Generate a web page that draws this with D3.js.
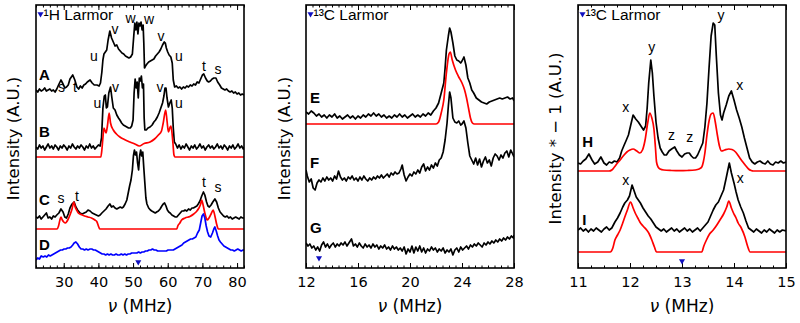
<!DOCTYPE html>
<html lang="en">
<head>
<meta charset="UTF-8">
<title>NMR spectra</title>
<style>
  body { margin: 0; background: #fff; }
  svg { display: block; }
</style>
</head>
<body>
<script src="https://d3js.org/d3.v7.min.js"></script>
<script>
// ---- data: [frequency MHz, intensity A.U. (offset included)] ----
// panel 1 (1H)
const traceA = [[22,178],[22.5,176],[23,179],[23.5,177],[24,178],[24.5,180],[25,177],[25.5,178],[26,179],[26.5,177],[27,178],[27.5,176],[28,179],[28.5,183],[29.2,188],[29.8,184],[30.3,180],[30.8,181],[31.3,183],[31.8,189],[32.6,193],[33.2,188],[33.8,181],[34.3,179],[34.8,182],[35.3,180],[35.8,183],[36.3,184],[36.8,186],[37.6,188],[38.2,185],[38.8,183],[39.6,183],[40.2,182],[40.6,185],[41,196],[41.3,208],[41.6,214],[42,216],[42.4,218],[42.8,228],[43.3,237],[43.8,230],[44.3,226],[44.8,222],[45.3,223],[45.8,219],[46.3,217],[46.8,215],[47.3,214],[47.8,212],[48.3,211],[48.8,210],[49.3,211],[49.8,214],[50.2,232],[50.5,245],[50.8,238],[51.1,246],[51.4,234],[51.7,245],[52,242],[52.3,246],[52.6,238],[52.9,243],[53.1,225],[53.3,200],[53.6,202],[54,204],[54.5,206],[55,207],[55.5,208],[56,209],[56.5,212],[57,214],[57.5,216],[58,219],[58.5,223],[59,226],[59.3,225],[59.6,220],[60,216],[60.4,213],[60.9,211],[61.3,205],[61.6,188],[62,181],[62.5,182],[63,180],[63.5,181],[64,179],[64.5,181],[65,180],[65.5,182],[66,181],[66.5,183],[67,182],[67.5,184],[68,183],[68.5,186],[69,185],[69.5,189],[70,193],[70.4,194],[70.9,190],[71.4,187],[71.8,186],[72.3,187],[72.8,189],[73.3,190],[73.9,190],[74.4,186],[75,183],[75.5,180],[76,179],[76.5,178],[77,179],[77.5,177],[78,176],[78.5,177],[79,175],[79.5,176],[80,174],[80.5,175],[81,173],[81.5,174],[82,173]];
const traceB = [[22,121],[22.5,119],[23,123],[23.5,120],[24,122],[24.5,118],[25,121],[25.5,124],[26,120],[26.5,122],[27,119],[27.5,123],[28,121],[28.5,118],[29,122],[29.5,120],[30,123],[30.5,121],[31,118],[31.5,122],[32,120],[32.5,124],[33,121],[33.5,119],[34,122],[34.5,120],[35,123],[35.5,121],[36,118],[36.5,122],[37,120],[37.5,124],[38,120],[38.5,122],[39,119],[39.5,121],[40,123],[40.5,122],[40.9,130],[41.3,160],[41.7,172],[42,173],[42.3,160],[42.6,161],[43,175],[43.5,181],[43.9,170],[44.3,160],[44.8,158],[45.3,153],[45.8,150],[46.2,148],[46.7,145],[47.2,143],[47.7,142],[48.2,141],[48.7,140],[49.2,140],[49.6,142],[50,148],[50.3,175],[50.6,189],[50.9,180],[51.2,186],[51.5,170],[51.8,190],[52.1,187],[52.4,192],[52.7,180],[53,184],[53.2,150],[53.4,138],[53.8,138],[54.3,140],[54.9,141],[55.5,143],[56,146],[56.5,148],[57,151],[57.5,155],[58,160],[58.5,165],[58.9,172],[59.2,180],[59.5,180],[59.8,170],[60.2,161],[60.6,165],[61,168],[61.3,160],[61.6,140],[61.9,126],[62.3,124],[62.8,120],[63.3,123],[63.8,119],[64.3,122],[64.8,120],[65.3,124],[65.8,121],[66.3,118],[66.8,122],[67.3,120],[67.8,123],[68.3,119],[68.8,121],[69.3,124],[69.8,120],[70.3,122],[70.8,118],[71.3,121],[71.8,123],[72.3,120],[72.8,122],[73.3,119],[73.8,121],[74.3,124],[74.8,120],[75.3,122],[75.8,119],[76.3,123],[76.8,121],[77.3,118],[77.8,122],[78.3,120],[78.8,123],[79.3,119],[79.8,121],[80.3,124],[80.8,120],[81.3,122],[81.8,119],[82,121]];
const fitB = [[22,111],[40.7,111],[41,118],[41.3,130],[41.6,140],[42.2,135],[42.6,142],[43.1,155],[43.5,145],[44.3,138],[45.2,134],[46.2,131],[47.5,128.5],[49.1,126],[50.5,124],[51.8,122],[53.2,124.5],[54.9,126],[56.2,129],[57.3,133],[58.2,137],[58.7,145],[59.4,158],[59.8,147],[60.2,136],[60.6,140],[60.9,142],[61.2,136],[61.5,125],[61.8,113],[62.1,111],[82,111]];
const traceC = [[22,51],[22.5,50],[23,52],[23.5,49],[24,51],[24.5,53],[25,55],[25.5,50],[26,51],[26.5,49],[27,52],[27.5,51],[28,53],[28.6,55],[29.2,59],[29.8,56],[30.3,51],[30.8,50],[31.3,54],[31.8,60],[32.4,64],[33,66],[33.5,61],[34,58],[34.7,55],[35.3,54],[35.9,55],[36.5,56],[37,58],[37.6,57],[38.2,55],[38.8,54],[39.4,53],[40,52],[40.5,53],[41,55],[41.6,57],[42.2,59],[42.8,62],[43.3,64],[43.8,61],[44.3,62],[44.8,60],[45.3,59],[45.8,60],[46.3,61],[46.8,60],[47.2,61],[47.7,64],[48.2,68],[48.6,75],[49,82],[49.4,88],[49.8,98],[50.1,112],[50.4,118],[50.7,113],[51,116],[51.3,105],[51.6,98],[51.9,112],[52.2,118],[52.5,112],[52.8,116],[53.1,100],[53.4,85],[53.7,70],[54,64],[54.5,60],[55,58],[55.4,57],[55.9,56],[56.4,55],[56.8,56],[57.3,57],[57.8,59],[58.3,62],[58.7,64],[59.1,65],[59.5,62],[59.9,58],[60.3,56],[60.7,55],[61.2,53],[61.7,52],[62.2,51],[62.6,51],[63.1,53],[63.6,55],[64.1,57],[64.6,57],[65,58],[65.5,57],[66,59],[66.5,58],[67,60],[67.4,60],[67.9,61],[68.4,62],[68.8,64],[69.3,67],[69.8,72],[70.3,76],[70.7,73],[71.2,66],[71.6,62],[72,61],[72.5,63],[73,66],[73.6,69],[74.1,66],[74.6,60],[75.1,56],[75.6,54],[76.1,52],[76.6,51],[77.1,52],[77.6,50],[78.1,51],[78.6,49],[79.1,50],[79.6,51],[80.1,50],[80.6,49],[81.1,51],[81.6,50],[82,50]];
const fitC = [[22,39],[28.1,39],[28.5,42],[28.9,48],[29.2,51],[29.6,48],[30,46],[30.5,45],[30.8,46],[31.3,49],[31.8,53],[32.4,59],[32.9,66],[33.3,61],[33.7,58],[34.2,55],[35,53.5],[36,52],[37,51],[38,50],[39,48],[39.6,46],[40,42],[40.4,39],[62.6,39],[62.9,42],[63.5,45],[64,48],[65,50],[66.4,51.5],[67.5,54],[68.3,56.5],[69,60],[69.5,64],[69.8,68],[70.2,63],[70.7,55],[71.1,50],[71.4,48],[71.9,50],[72.5,54],[73.1,58],[73.6,52],[74.1,44],[74.6,39],[82,39]];
const traceD = [[22,8],[22.5,10],[23,9],[23.5,12],[24.1,11],[24.6,12],[25.1,11],[25.6,13],[26.1,12],[26.6,13],[27.1,14],[27.6,15],[28.1,16],[28.6,17],[29.1,18],[29.6,18],[30.1,19],[30.6,19],[31.1,20],[31.6,20],[32.1,21],[32.6,23],[33,25],[33.5,26],[34,24],[34.5,21],[35,19],[35.5,19],[36,18],[36.5,19],[37,18],[37.6,19],[38.1,19],[38.6,18],[39.1,18],[39.6,17],[40.1,16],[40.6,15],[41.1,14],[41.6,14],[42.1,13],[42.6,14],[43.1,13],[43.6,14],[44.1,13],[44.6,13],[45.1,14],[45.6,13],[46.1,13],[46.6,14],[47.1,13],[47.6,14],[48.1,13],[48.6,14],[49.1,14],[49.6,15],[50.1,15],[50.6,15],[51.1,15],[51.6,16],[52.1,15],[52.6,16],[53.1,16],[53.6,17],[54.1,17],[54.6,18],[55.1,18],[55.6,19],[56.1,18],[56.6,18],[57.1,17],[57.6,17],[58.1,17],[58.6,17],[59.1,17],[59.6,17],[60.1,18],[60.6,18],[61.1,18],[61.6,18],[62.1,19],[62.6,20],[63.1,21],[63.6,22],[64.1,23],[64.6,25],[65.1,26],[65.6,27],[66.1,28],[66.6,29],[67.1,29],[67.6,30],[68.1,31],[68.6,35],[69.1,38],[69.5,45],[69.9,52],[70.3,54],[70.7,50],[71.1,42],[71.5,36],[71.9,32],[72.4,31],[72.9,35],[73.3,39],[73.6,41],[74,37],[74.4,32],[74.8,28],[75.2,26],[75.7,24],[76.2,22],[76.7,21],[77.2,20],[77.7,19],[78.2,18],[78.7,18],[79.2,17],[79.7,18],[80.2,19],[80.7,18],[81.2,17],[81.7,18],[82,18]];

// panel 2 (13C, 12-28 MHz)
const traceE = [[12,156],[12.2,154],[12.4,157],[12.6,155],[12.8,152],[13,154],[13.2,151],[13.4,153],[13.6,150],[13.8,153],[14,151],[14.2,154],[14.4,150],[14.6,152],[14.8,149],[15,151],[15.2,153],[15.4,150],[15.6,152],[15.8,149],[16,152],[16.2,150],[16.4,153],[16.6,151],[16.8,154],[17,152],[17.2,155],[17.4,152],[17.6,154],[17.8,151],[18,153],[18.2,150],[18.4,152],[18.6,150],[18.8,153],[19,151],[19.2,154],[19.4,151],[19.6,153],[19.8,150],[20,152],[20.2,154],[20.4,151],[20.6,153],[20.8,151],[21,154],[21.2,152],[21.4,155],[21.6,153],[21.8,157],[22,160],[22.2,165],[22.4,175],[22.6,185],[22.7,200],[22.8,218],[22.95,232],[23.05,240],[23.15,236],[23.3,225],[23.45,212],[23.6,208],[23.75,207],[23.9,205],[24,207],[24.15,211],[24.3,203],[24.45,190],[24.6,185],[24.75,178],[24.9,175],[25.1,170],[25.3,168],[25.5,166],[25.7,165],[25.9,164],[26.1,166],[26.3,167],[26.5,168],[26.7,169],[26.9,170],[27.1,169],[27.3,170],[27.5,171],[27.7,169],[27.9,170],[28,167]];
const fitE = [[12,144],[22,144],[22.2,146],[22.4,155],[22.6,168],[22.8,195],[23,214],[23.1,216],[23.25,208],[23.5,198],[23.75,191],[24,185],[24.2,178],[24.35,170],[24.5,160],[24.65,150],[24.8,145],[24.95,144],[28,144]];
const traceF = [[12,98],[12.1,92],[12.25,86],[12.4,89],[12.55,80],[12.7,78],[12.85,85],[13,88],[13.15,86],[13.3,90],[13.45,87],[13.6,91],[13.75,88],[13.9,90],[14.05,87],[14.2,92],[14.35,89],[14.5,97],[14.65,91],[14.8,88],[14.95,90],[15.1,87],[15.25,91],[15.4,89],[15.55,92],[15.7,88],[15.85,90],[16,87],[16.15,91],[16.3,88],[16.45,92],[16.6,89],[16.75,87],[16.9,90],[17.05,88],[17.2,91],[17.35,89],[17.5,92],[17.65,90],[17.8,93],[17.95,90],[18.1,92],[18.25,94],[18.4,91],[18.55,95],[18.7,93],[18.85,96],[19,94],[19.15,95],[19.3,99],[19.4,103],[19.55,93],[19.7,87],[19.85,91],[20,94],[20.15,92],[20.3,96],[20.45,94],[20.6,98],[20.75,95],[20.9,101],[21.05,104],[21.2,97],[21.35,101],[21.5,98],[21.65,103],[21.8,100],[21.95,105],[22.1,102],[22.25,108],[22.4,110],[22.55,116],[22.7,128],[22.85,145],[22.95,162],[23.05,176],[23.15,170],[23.3,150],[23.45,146],[23.6,145],[23.75,147],[23.9,143],[24,144],[24.15,147],[24.3,140],[24.45,125],[24.6,112],[24.75,108],[24.9,104],[25.05,110],[25.2,103],[25.35,109],[25.5,101],[25.65,107],[25.8,111],[25.95,105],[26.1,108],[26.25,102],[26.4,110],[26.55,114],[26.7,112],[26.85,108],[27,113],[27.15,110],[27.3,115],[27.45,117],[27.6,111],[27.75,118],[27.9,114],[28,111]];
const traceG = [[12,25],[12.15,22],[12.3,24],[12.45,20],[12.6,22],[12.75,18],[12.9,21],[13.05,17],[13.2,23],[13.35,26],[13.5,21],[13.65,24],[13.8,20],[13.95,23],[14.1,25],[14.25,21],[14.4,24],[14.55,22],[14.7,25],[14.85,23],[15,26],[15.15,22],[15.3,25],[15.5,29],[15.65,22],[15.8,24],[15.95,21],[16.1,25],[16.25,22],[16.4,20],[16.55,24],[16.7,21],[16.85,23],[17,20],[17.15,24],[17.3,21],[17.45,23],[17.6,19],[17.75,22],[17.9,20],[18.05,23],[18.2,19],[18.35,21],[18.5,18],[18.65,22],[18.8,19],[18.95,21],[19.1,18],[19.25,20],[19.4,17],[19.55,21],[19.7,14],[19.85,19],[20,16],[20.15,22],[20.3,15],[20.45,21],[20.6,17],[20.75,22],[20.9,16],[21.05,20],[21.2,15],[21.35,19],[21.5,17],[21.65,21],[21.8,18],[21.95,20],[22.1,16],[22.25,19],[22.4,17],[22.55,20],[22.7,15],[22.85,18],[23,16],[23.15,19],[23.3,13],[23.45,18],[23.6,20],[23.75,16],[23.9,21],[24.05,18],[24.2,20],[24.35,22],[24.5,19],[24.65,23],[24.8,21],[24.95,24],[25.1,22],[25.25,25],[25.4,23],[25.55,21],[25.7,25],[25.85,23],[26,26],[26.15,24],[26.3,27],[26.45,25],[26.6,28],[26.75,26],[26.9,29],[27.05,27],[27.2,30],[27.35,28],[27.5,31],[27.65,29],[27.8,32],[27.95,30],[28,33]];

// panel 3 (13C, 11-15 MHz)
const traceH = [[11,105],[11.05,104],[11.1,107],[11.15,109],[11.21,114],[11.27,108],[11.32,104],[11.38,106],[11.44,111],[11.5,105],[11.55,103],[11.6,106],[11.65,105],[11.7,107],[11.75,106],[11.8,110],[11.84,117],[11.88,122],[11.93,128],[11.97,133],[12.01,142],[12.06,153],[12.11,149],[12.16,146],[12.21,142],[12.26,138],[12.3,142],[12.33,160],[12.36,185],[12.4,208],[12.43,195],[12.46,172],[12.5,146],[12.54,130],[12.58,120],[12.62,116],[12.66,113],[12.7,113],[12.75,117],[12.8,119],[12.86,121],[12.9,117],[12.95,113],[13,111],[13.05,114],[13.1,115],[13.14,115],[13.18,112],[13.22,110],[13.26,110],[13.3,113],[13.35,119],[13.4,125],[13.44,141],[13.48,165],[13.52,200],[13.56,232],[13.6,245],[13.63,243],[13.66,212],[13.7,175],[13.74,153],[13.77,148],[13.8,155],[13.85,163],[13.9,172],[13.95,177],[14,168],[14.05,158],[14.1,150],[14.15,141],[14.2,130],[14.25,120],[14.3,110],[14.35,106],[14.4,104],[14.45,106],[14.5,107],[14.55,105],[14.6,104],[14.65,107],[14.7,104],[14.75,103],[14.8,106],[14.85,105],[14.9,107],[14.95,105],[15,106]];
const fitH = [[11,97],[11.6,97],[11.65,98],[11.7,101],[11.76,105],[11.81,108],[11.87,112],[11.94,116],[12,118],[12.06,119],[12.13,117],[12.19,115],[12.24,118],[12.29,128],[12.34,145],[12.38,155],[12.42,150],[12.46,139],[12.49,120],[12.51,106],[12.54,101],[12.58,99],[12.65,98],[12.8,97.5],[12.96,97.3],[13.1,97.5],[13.25,98],[13.33,99],[13.38,101],[13.41,106],[13.44,115],[13.48,133],[13.52,147],[13.56,154],[13.6,155],[13.64,146],[13.68,133],[13.72,122],[13.76,117],[13.82,118],[13.9,119],[13.96,118.5],[14.03,116],[14.1,111],[14.17,106],[14.23,102],[14.28,99],[14.33,97.5],[14.37,97],[15,97]];
const traceI = [[11,38],[11.05,40],[11.1,37],[11.15,39],[11.2,36],[11.25,39],[11.3,37],[11.35,40],[11.4,38],[11.45,36],[11.5,39],[11.55,41],[11.6,38],[11.65,40],[11.71,46],[11.76,50],[11.81,55],[11.86,61],[11.9,65],[11.95,68],[11.99,72],[12.04,83],[12.08,77],[12.12,71],[12.16,68],[12.2,65],[12.25,60],[12.3,56],[12.35,52],[12.4,49],[12.45,45],[12.5,41],[12.55,39],[12.6,37],[12.65,39],[12.7,36],[12.75,38],[12.8,40],[12.85,37],[12.9,39],[12.95,36],[13,38],[13.05,40],[13.1,37],[13.15,39],[13.2,36],[13.25,38],[13.3,40],[13.35,37],[13.4,40],[13.45,43],[13.5,46],[13.55,52],[13.6,58],[13.65,63],[13.7,66],[13.75,72],[13.8,78],[13.85,90],[13.91,105],[13.95,95],[14,85],[14.04,76],[14.08,68],[14.13,61],[14.18,55],[14.23,47],[14.28,40],[14.33,38],[14.38,36],[14.43,39],[14.48,37],[14.53,35],[14.58,38],[14.63,36],[14.68,39],[14.73,37],[14.78,35],[14.83,38],[14.88,36],[14.93,38],[15,37]];
const fitI = [[11,16],[11.62,16],[11.67,20],[11.71,28],[11.76,33],[11.81,38],[11.86,45],[11.9,51],[11.95,58],[12.01,66],[12.06,60],[12.1,55],[12.15,50],[12.19,46],[12.25,42],[12.32,38],[12.37,34],[12.42,28],[12.47,21],[12.51,16],[13.38,16],[13.42,22],[13.47,28],[13.53,34],[13.6,38],[13.67,43],[13.73,48],[13.8,54],[13.86,61],[13.9,67],[13.95,60],[13.99,55],[14.04,50],[14.08,45],[14.14,40],[14.21,31],[14.26,22],[14.31,16],[15,16]];

// tick labels
const ticks1 = [30, 40, 50, 60, 70, 80];
const ticks2 = [12, 16, 20, 24, 28];
const ticks3 = [11, 12, 13, 14, 15];

// trace letters [letter, freq, intensity]
const letters1 = [["A", 22.9, 188], ["B", 22.9, 131], ["C", 22.9, 63], ["D", 22.9, 18]];
const letters2 = [["E", 12.3, 165], ["F", 12.3, 100], ["G", 12.3, 35]];
const letters3 = [["H", 11.08, 121], ["I", 11.08, 43]];

// peak labels [label, freq, intensity]
const peaks1 = [["u",38.73,207],["v",44.79,234],["w",49.26,245],["w",54.59,244],["v",58.05,227],["u",63.25,207],["t",70.46,197],["s",74.5,194],["s",29.35,176],["t",33.25,176],
  ["u",39.74,160],["v",44.93,176],["v",57.77,176],["u",63.25,160],
  ["s",29.21,65],["t",33.83,67],["t",70.46,81],["s",74.5,76]];
const peaks3 = [["x",11.92,156],["y",12.42,216],["z",12.8,128],["z",13.15,126],["y",13.75,248],["x",14.11,178],
  ["x",11.92,83],["x",14.12,85]];

// Larmor markers [freq, intensity]
const larmor1 = [51.5, 6];
const larmor2 = [13.0, 10];
const larmor3 = [13.0, 7];

const W = 800, H = 323;
const plotTop = 5, plotBottom = 268;

const panels = [
  { left: 36, right: 244, domain: [22, 82], ticks: ticks1, minor: 2, lines: [[traceA, "#000"], [traceB, "#000"], [fitB, "#f00"], [traceC, "#000"], [fitC, "#f00"], [traceD, "#00f"]],
    letters: letters1, peaks: peaks1, larmor: larmor1, title: "\u00b9H Larmor", ylabel: "Intensity (A.U.)", ylx: 13 },
  { left: 306, right: 514, domain: [12, 28], ticks: ticks2, minor: 0.5, lines: [[traceE, "#000"], [fitE, "#f00"], [traceF, "#000"], [traceG, "#000"]],
    letters: letters2, peaks: [], larmor: larmor2, title: "\u00b9\u00b3C Larmor", ylabel: "Intensity (A.U.)", ylx: 284 },
  { left: 578, right: 786, domain: [11, 15], ticks: ticks3, minor: 0.25, lines: [[traceH, "#000"], [fitH, "#f00"], [traceI, "#000"], [fitI, "#f00"]],
    letters: letters3, peaks: peaks3, larmor: larmor3, title: "\u00b9\u00b3C Larmor", ylabel: "Intensity * \u2212 1 (A.U.)", ylx: 555 }
];

const svg = d3.select("body").append("svg")
  .attr("width", W).attr("height", H);

svg.append("rect").attr("width", W).attr("height", H).attr("fill", "#fff");

panels.forEach((p, i) => {
  const x = d3.scaleLinear().domain(p.domain).range([p.left, p.right]);
  const y = d3.scaleLinear().domain([0, plotBottom - plotTop]).range([plotBottom, plotTop]);

  const clipId = "clip" + i;
  svg.append("clipPath").attr("id", clipId)
    .append("rect").attr("x", p.left).attr("y", plotTop)
    .attr("width", p.right - p.left).attr("height", plotBottom - plotTop);

  const g = svg.append("g").attr("clip-path", `url(#${clipId})`);

  p.lines.forEach(([data, color]) => {
    const line = d3.line().x(d => x(d[0])).y(d => y(d[1]));
    if (color === "#f00") line.curve(d3.curveMonotoneX);
    g.append("path")
      .datum(data)
      .attr("d", line)
      .attr("fill", "none")
      .attr("stroke", color)
      .attr("stroke-width", 1.7)
      .attr("stroke-linejoin", "round");
  });

  // minor ticks
  const minorVals = d3.range(p.domain[0], p.domain[1] + 1e-9, p.minor);
  svg.append("g").attr("transform", `translate(0,${plotBottom})`)
    .call(d3.axisBottom(x).tickValues(minorVals).tickSize(-2.5).tickFormat(""))
    .call(a => a.select(".domain").remove());
  svg.append("g").attr("transform", `translate(0,${plotTop})`)
    .call(d3.axisTop(x).tickValues(minorVals).tickSize(-2.5).tickFormat(""))
    .call(a => a.select(".domain").remove());

  // major ticks
  const xb = svg.append("g").attr("transform", `translate(0,${plotBottom})`)
    .call(d3.axisBottom(x).tickValues(p.ticks).tickSizeInner(-5).tickSizeOuter(0).tickPadding(9).tickFormat(d3.format("d")));
  xb.select(".domain").remove();
  xb.selectAll("text").attr("font-family", "DejaVu Sans").attr("font-size", 14.5).attr("fill", "#000");
  svg.append("g").attr("transform", `translate(0,${plotTop})`)
    .call(d3.axisTop(x).tickValues(p.ticks).tickSizeInner(-5).tickSizeOuter(0).tickFormat(""))
    .call(a => a.select(".domain").remove());

  svg.selectAll(".tick line").attr("stroke", "#000").attr("stroke-width", 1);

  // frame
  svg.append("rect")
    .attr("x", p.left).attr("y", plotTop)
    .attr("width", p.right - p.left).attr("height", plotBottom - plotTop)
    .attr("fill", "none").attr("stroke", "#000").attr("stroke-width", 1.6);

  // x label
  const xl = svg.append("text")
    .attr("x", (p.left + p.right) / 2).attr("y", 312)
    .attr("text-anchor", "middle")
    .attr("font-family", "DejaVu Sans").attr("font-size", 17);
  xl.append("tspan").attr("font-style", "italic").text("\u03bd");
  xl.append("tspan").text(" (MHz)");

  // y label
  svg.append("text")
    .attr("transform", `translate(${p.ylx},${(plotTop + plotBottom) / 2 + 2}) rotate(-90)`)
    .attr("text-anchor", "middle")
    .attr("dy", "0.35em")
    .attr("font-family", "DejaVu Sans").attr("font-size", 16.5)
    .text(p.ylabel);

  // Larmor header
  const tri = d3.symbol().type(d3.symbolTriangle).size(16);
  svg.append("path")
    .attr("d", tri())
    .attr("transform", `translate(${p.left + 4.5},${plotTop + 9}) rotate(180)`)
    .attr("fill", "#1010c0");
  svg.append("text")
    .attr("x", p.left + 7.5).attr("y", plotTop + 15)
    .attr("font-family", "Liberation Sans, Arial").attr("font-size", 15.5)
    .text(p.title);

  // Larmor marker
  svg.append("path")
    .attr("d", tri())
    .attr("transform", `translate(${x(p.larmor[0])},${y(p.larmor[1])}) rotate(180)`)
    .attr("fill", "#1010c0");

  // trace letters
  svg.append("g").selectAll("text").data(p.letters).join("text")
    .attr("x", d => x(d[1])).attr("y", d => y(d[2]))
    .attr("font-family", "Liberation Sans, Arial").attr("font-weight", "bold").attr("font-size", 15)
    .text(d => d[0]);

  // peak labels
  svg.append("g").selectAll("text").data(p.peaks).join("text")
    .attr("x", d => x(d[1])).attr("y", d => y(d[2]))
    .attr("text-anchor", "middle")
    .attr("font-family", "Liberation Sans, Arial").attr("font-size", 14)
    .text(d => d[0]);
});
</script>
</body>
</html>
